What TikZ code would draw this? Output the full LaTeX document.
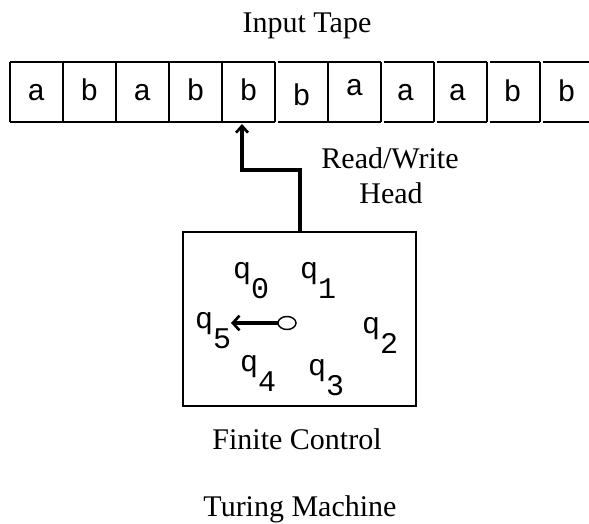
\documentclass[tikz,border=0pt]{standalone}
\usepackage{fontspec}
\setmainfont{Liberation Serif}
\newfontfamily\monof{Liberation Mono}
\usetikzlibrary{arrows.meta,shapes.geometric}
\newcommand\stlab[1]{q\raisebox{-15pt}{#1}}
\begin{document}
\begin{tikzpicture}[x=0.75pt,y=-0.75pt,
  every node/.style={inner sep=0pt,outer sep=0pt},
  lbl/.style={font=\fontsize{22.5}{27}\selectfont, anchor=base},
  tl/.style={font=\monof\fontsize{22.5}{27}\selectfont, anchor=base},
  stl/.style={font=\monof\fontsize{22.5}{27}\selectfont, anchor=base west},
  tape/.style={draw=black, line width=1.5pt},
  fcbox/.style={draw=black, line width=1.5pt, minimum width=174.75pt, minimum height=130.5pt},
  headarrow/.style={line width=3pt, -{Straight Barb[length=5pt,width=9pt,line width=2pt]}},
  ptr/.style={line width=2.8pt, -{Straight Barb[length=5pt,width=11pt,line width=2pt]}},
  hub/.style={draw=black, line width=1.1pt, ellipse, minimum width=13.5pt, minimum height=9.75pt}
]
\useasboundingbox (0,0) rectangle (589,524);
% title
\node[lbl] (title) at (307,33) {Input Tape};
% tape outline: top and bottom segments with small breaks
\foreach \a/\b in {10/275, 277.5/381, 383.5/434, 436.5/487, 489.5/540, 542.5/600} {
  \draw[tape] (\a,62) -- (\b,62);
  \draw[tape] (\a,122) -- (\b,122);
}
\foreach \x in {10,63,116,169,222,275,328,381,434,487,540}
  \draw[tape] (\x,62) -- (\x,122);
% tape symbols
\node[tl] (c1) at (36.5,101) {a};
\node[tl] (c2) at (89.5,101) {b};
\node[tl] (c3) at (142.5,101) {a};
\node[tl] (c4) at (195.5,101) {b};
\node[tl] (c5) at (248.5,101) {b};
\node[tl] (c6) at (301.5,106) {b};
\node[tl] (c7) at (354.5,96) {a};
\node[tl] (c8) at (405.5,101) {a};
\node[tl] (c9) at (457.5,101) {a};
\node[tl] (c10) at (512.5,102) {b};
\node[tl] (c11) at (566.5,102) {b};
\coordinate (tb) at (0,124);
% finite control
\node[fcbox] (fc) at (299.5,319) {};
\coordinate (bend) at (242,170);
\draw[headarrow] (fc.north) |- (bend) -- (bend |- tb);
\node[lbl] (rw) at (390,169) {Read/Write};
\node[lbl] (hd) at (391,204) {Head};
% states
\node[stl] (q0) at (233,278) {\stlab{0}};
\node[stl] (q1) at (300,278) {\stlab{1}};
\node[stl] (q2) at (362,333) {\stlab{2}};
\node[stl] (q3) at (308,375) {\stlab{3}};
\node[stl] (q4) at (240,371) {\stlab{4}};
\node[stl] (q5) at (195,328) {\stlab{5}};
\node[hub] (ctr) at (287,323) {};
\draw[ptr] (ctr.west) -- (ctr.west -| q5.east);
% captions
\node[lbl] (fcl) at (297,449) {Finite Control};
\node[lbl] (tm) at (300,516) {Turing Machine};
\end{tikzpicture}
\end{document}
